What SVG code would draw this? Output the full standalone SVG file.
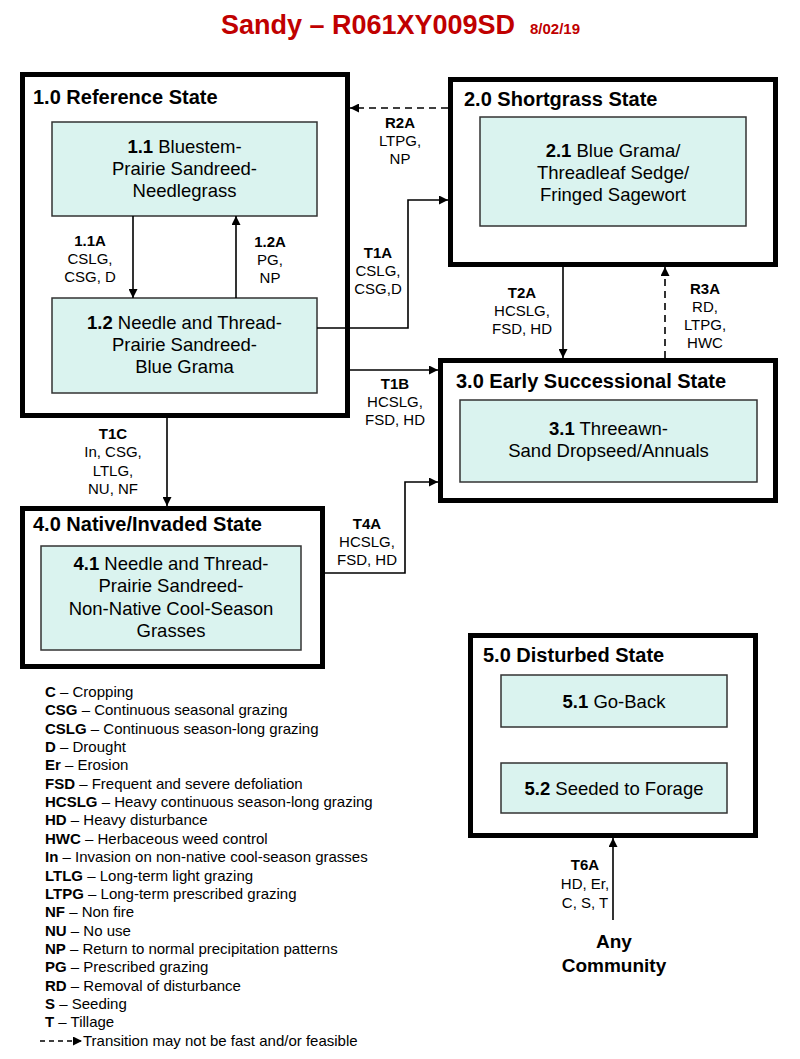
<svg xmlns="http://www.w3.org/2000/svg" width="800" height="1059" viewBox="0 0 800 1059">
<defs>
<style>
text{font-family:"Liberation Sans",Arial,sans-serif;fill:#000}
.st{fill:#fff;stroke:#000;stroke-width:5}
.cm{fill:#DAF3EF;stroke:#333;stroke-width:1.5}
.sh{font-size:20px;font-weight:bold}
.ct{font-size:18.5px;text-anchor:middle}
.lb{font-size:15px;text-anchor:middle}
.lg{font-size:15px}
.b{font-weight:bold}
.ln{fill:none;stroke:#000;stroke-width:1.6}
.ds{stroke-dasharray:7,5}
</style>
<marker id="ah" viewBox="0 0 10 10" refX="10" refY="5" markerWidth="10" markerHeight="9" markerUnits="userSpaceOnUse" orient="auto">
<path d="M0,0 L10,5 L0,10 z" fill="#000"/>
</marker>
</defs>
<rect width="800" height="1059" fill="#fff"/>
<g id="title">
<text x="368" y="34" font-size="27" font-weight="bold" text-anchor="middle" style="fill:#C00000">Sandy – R061XY009SD</text>
<text x="530" y="34" font-size="15" font-weight="bold" style="fill:#C00000">8/02/19</text>
</g>
<g id="state1">
<rect class="st" x="22.5" y="74.5" width="325" height="341"/>
<text class="sh" x="33" y="104">1.0 Reference State</text>
</g>
<g id="c11">
<rect class="cm" x="52" y="122" width="265" height="94"/>
<text class="ct" x="184.5" y="153"><tspan class="b">1.1</tspan> Bluestem-</text>
<text class="ct" x="184.5" y="175">Prairie Sandreed-</text>
<text class="ct" x="184.5" y="197">Needlegrass</text>
</g>
<g id="c12">
<rect class="cm" x="52" y="298" width="265" height="95"/>
<text class="ct" x="184.5" y="329"><tspan class="b">1.2</tspan> Needle and Thread-</text>
<text class="ct" x="184.5" y="351">Prairie Sandreed-</text>
<text class="ct" x="184.5" y="373">Blue Grama</text>
</g>
<g id="state2">
<rect class="st" x="450.5" y="79.5" width="325" height="185"/>
<text class="sh" x="464" y="106">2.0 Shortgrass State</text>
</g>
<g id="c21">
<rect class="cm" x="480" y="117" width="266" height="109"/>
<text class="ct" x="613" y="157"><tspan class="b">2.1</tspan> Blue Grama/</text>
<text class="ct" x="613" y="179">Threadleaf Sedge/</text>
<text class="ct" x="613" y="201">Fringed Sagewort</text>
</g>
<g id="state3">
<rect class="st" x="440.5" y="360.5" width="335" height="140"/>
<text class="sh" x="456" y="388">3.0 Early Successional State</text>
</g>
<g id="c31">
<rect class="cm" x="460" y="400" width="297" height="82"/>
<text class="ct" x="608.5" y="435"><tspan class="b">3.1</tspan> Threeawn-</text>
<text class="ct" x="608.5" y="457">Sand Dropseed/Annuals</text>
</g>
<g id="state4">
<rect class="st" x="22.5" y="508.5" width="300" height="158"/>
<text class="sh" x="33" y="531">4.0 Native/Invaded State</text>
</g>
<g id="c41">
<rect class="cm" x="41" y="546" width="260" height="104"/>
<text class="ct" x="171" y="570"><tspan class="b">4.1</tspan> Needle and Thread-</text>
<text class="ct" x="171" y="592">Prairie Sandreed-</text>
<text class="ct" x="171" y="615">Non-Native Cool-Season</text>
<text class="ct" x="171" y="637">Grasses</text>
</g>
<g id="state5">
<rect class="st" x="470.5" y="635.5" width="285" height="200"/>
<text class="sh" x="483" y="662">5.0 Disturbed State</text>
</g>
<g id="c51">
<rect class="cm" x="501" y="675" width="226" height="52"/>
<text class="ct" x="614" y="708"><tspan class="b">5.1</tspan> Go-Back</text>
</g>
<g id="c52">
<rect class="cm" x="501" y="763" width="226" height="50"/>
<text class="ct" x="614" y="795"><tspan class="b">5.2</tspan> Seeded to Forage</text>
</g>
<g id="any">
<text x="614" y="948" font-size="19" font-weight="bold" text-anchor="middle">Any</text>
<text x="614" y="972" font-size="19" font-weight="bold" text-anchor="middle">Community</text>
</g>
<g id="connectors">
<line class="ln" x1="133" y1="216" x2="133" y2="298" marker-end="url(#ah)"/>
<line class="ln" x1="236" y1="298" x2="236" y2="216" marker-end="url(#ah)"/>
<line class="ln ds" x1="448" y1="108" x2="350" y2="108" marker-end="url(#ah)"/>
<polyline class="ln" points="317,328 408,328 408,200 448,200" marker-end="url(#ah)"/>
<line class="ln" x1="350" y1="370" x2="438" y2="370" marker-end="url(#ah)"/>
<line class="ln" x1="563" y1="267" x2="563" y2="358" marker-end="url(#ah)"/>
<line class="ln ds" x1="665" y1="358" x2="665" y2="267" marker-end="url(#ah)"/>
<line class="ln" x1="167" y1="418" x2="167" y2="506" marker-end="url(#ah)"/>
<polyline class="ln" points="325,573 405,573 405,482 438,482" marker-end="url(#ah)"/>
<line class="ln" x1="613" y1="920" x2="613" y2="838" marker-end="url(#ah)"/>
</g>
<g id="labels">
<text class="lb" x="90" y="246"><tspan class="b">1.1A</tspan><tspan x="90" dy="18">CSLG,</tspan><tspan x="90" dy="18">CSG, D</tspan></text>
<text class="lb" x="270" y="247"><tspan class="b">1.2A</tspan><tspan x="270" dy="18">PG,</tspan><tspan x="270" dy="18">NP</tspan></text>
<text class="lb" x="400" y="128"><tspan class="b">R2A</tspan><tspan x="400" dy="18">LTPG,</tspan><tspan x="400" dy="18">NP</tspan></text>
<text class="lb" x="378" y="258"><tspan class="b">T1A</tspan><tspan x="378" dy="18">CSLG,</tspan><tspan x="378" dy="18">CSG,D</tspan></text>
<text class="lb" x="522" y="298"><tspan class="b">T2A</tspan><tspan x="522" dy="18">HCSLG,</tspan><tspan x="522" dy="18">FSD, HD</tspan></text>
<text class="lb" x="705" y="294"><tspan class="b">R3A</tspan><tspan x="705" dy="18">RD,</tspan><tspan x="705" dy="18">LTPG,</tspan><tspan x="705" dy="18">HWC</tspan></text>
<text class="lb" x="395" y="389"><tspan class="b">T1B</tspan><tspan x="395" dy="18">HCSLG,</tspan><tspan x="395" dy="18">FSD, HD</tspan></text>
<text class="lb" x="113" y="439"><tspan class="b">T1C</tspan><tspan x="113" dy="18.3">In, CSG,</tspan><tspan x="113" dy="18.3">LTLG,</tspan><tspan x="113" dy="18.3">NU, NF</tspan></text>
<text class="lb" x="367" y="529"><tspan class="b">T4A</tspan><tspan x="367" dy="18">HCSLG,</tspan><tspan x="367" dy="18">FSD, HD</tspan></text>
<text class="lb" x="585" y="870"><tspan class="b">T6A</tspan><tspan x="585" dy="19">HD, Er,</tspan><tspan x="585" dy="19">C, S, T</tspan></text>
</g>
<g id="legend">
<text class="lg" x="45" y="697"><tspan class="b">C</tspan> – Cropping</text>
<text class="lg" x="45" y="715.3"><tspan class="b">CSG</tspan> – Continuous seasonal grazing</text>
<text class="lg" x="45" y="733.7"><tspan class="b">CSLG</tspan> – Continuous season-long grazing</text>
<text class="lg" x="45" y="752"><tspan class="b">D</tspan> – Drought</text>
<text class="lg" x="45" y="770.4"><tspan class="b">Er</tspan> – Erosion</text>
<text class="lg" x="45" y="788.7"><tspan class="b">FSD</tspan> – Frequent and severe defoliation</text>
<text class="lg" x="45" y="807.1"><tspan class="b">HCSLG</tspan> – Heavy continuous season-long grazing</text>
<text class="lg" x="45" y="825.4"><tspan class="b">HD</tspan> – Heavy disturbance</text>
<text class="lg" x="45" y="843.8"><tspan class="b">HWC</tspan> – Herbaceous weed control</text>
<text class="lg" x="45" y="862.1"><tspan class="b">In</tspan> – Invasion on non-native cool-season grasses</text>
<text class="lg" x="45" y="880.5"><tspan class="b">LTLG</tspan> – Long-term light grazing</text>
<text class="lg" x="45" y="898.8"><tspan class="b">LTPG</tspan> – Long-term prescribed grazing</text>
<text class="lg" x="45" y="917.2"><tspan class="b">NF</tspan> – Non fire</text>
<text class="lg" x="45" y="935.5"><tspan class="b">NU</tspan> – No use</text>
<text class="lg" x="45" y="953.9"><tspan class="b">NP</tspan> – Return to normal precipitation patterns</text>
<text class="lg" x="45" y="972.2"><tspan class="b">PG</tspan> – Prescribed grazing</text>
<text class="lg" x="45" y="990.6"><tspan class="b">RD</tspan> – Removal of disturbance</text>
<text class="lg" x="45" y="1008.9"><tspan class="b">S</tspan> – Seeding</text>
<text class="lg" x="45" y="1027.3"><tspan class="b">T</tspan> – Tillage</text>
<line class="ln ds" x1="40" y1="1041" x2="82" y2="1041" style="stroke-dasharray:5,4" marker-end="url(#ah)"/>
<text class="lg" x="83" y="1046">Transition may not be fast and/or feasible</text>
</g>
</svg>
